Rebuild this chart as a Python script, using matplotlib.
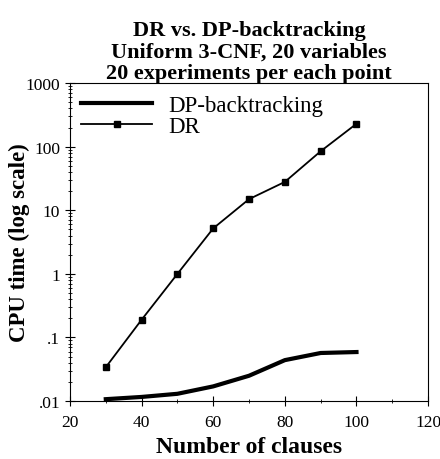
import numpy as np
import matplotlib
matplotlib.use('Agg')
import matplotlib.pyplot as plt
from matplotlib.ticker import FixedLocator, FixedFormatter, LogLocator, MultipleLocator

plt.rcParams['font.family'] = ['Liberation Serif', 'DejaVu Serif']

clauses = [30, 40, 50, 60, 70, 80, 90, 100]
dr_time = [0.034, 0.19, 1.0, 5.2, 15, 28, 85, 230]
dp_time = [0.0107, 0.0116, 0.013, 0.017, 0.025, 0.044, 0.057, 0.059]

y_ticks = [0.01, 0.1, 1, 10, 100, 1000]
y_labels = ['.01', '.1', '1', '10', '100', '1000']
x_ticks = [20, 40, 60, 80, 100, 120]

fig = plt.figure(figsize=(4.4, 4.6), dpi=100)
ax = fig.add_axes([0.159, 0.126, 0.814, 0.691])

ax.plot(clauses, dp_time, color='black', lw=3, label='DP-backtracking')
ax.plot(clauses, dr_time, color='black', lw=1.3, marker='s', ms=4.5,
        label='DR')

ax.set_yscale('log')
ax.set_ylim(0.01, 1000)
ax.set_xlim(20, 120)
ax.yaxis.set_major_locator(FixedLocator(y_ticks))
ax.yaxis.set_major_formatter(FixedFormatter(y_labels))
ax.yaxis.set_minor_locator(LogLocator(base=10, subs=np.arange(2, 10)))
ax.set_xticks(x_ticks)
ax.xaxis.set_minor_locator(MultipleLocator(10))
ax.tick_params(which='both', direction='inout', labelsize=12.5)
ax.tick_params(which='major', length=7)
ax.tick_params(which='minor', length=3.5)
ax.tick_params(axis='x', which='major', pad=6)

ax.set_xlabel('Number of clauses', fontsize=17, fontweight='bold',
              labelpad=4)
ax.set_ylabel('CPU time (log scale)', fontsize=16.5, fontweight='bold')
ax.yaxis.set_label_coords(-0.112, 0.5)
ax.set_title('DR vs. DP-backtracking\nUniform 3-CNF, 20 variables\n'
             '20 experiments per each point', fontsize=16, fontweight='bold',
             linespacing=1.1, pad=4)

ax.legend(loc='upper left', frameon=False, fontsize=16.5, handlelength=3.1,
          borderaxespad=0.3, borderpad=0.2, labelspacing=0.0,
          handletextpad=0.7)

fig.savefig('out.png', dpi=100)
